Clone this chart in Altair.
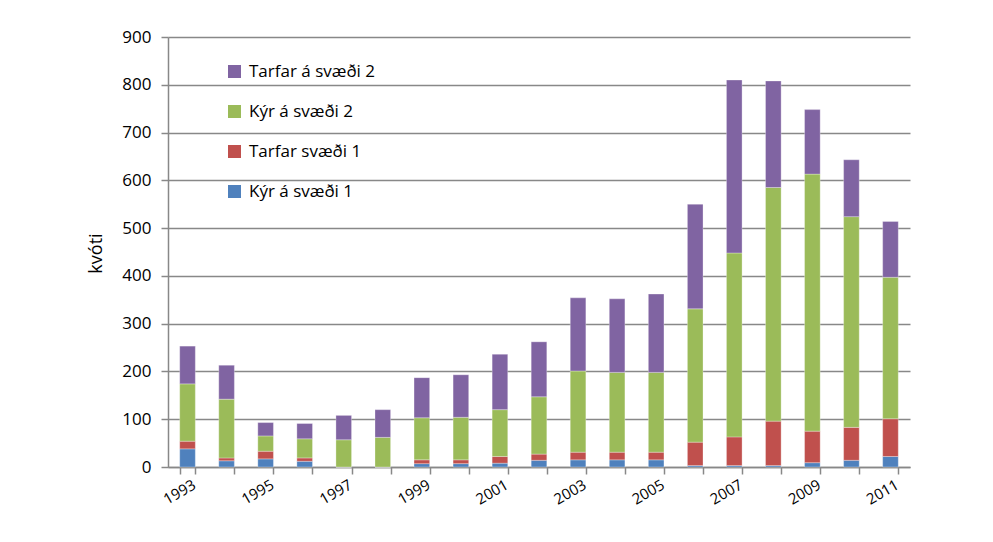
import altair as alt
import pandas as pd

years = [str(y) for y in range(1993, 2012)]
kyr1 = [38, 13, 17, 12, 0, 0, 7, 7, 8, 14, 15, 15, 15, 3, 3, 3, 9, 14, 22]
tarfar1 = [16, 6, 16, 7, 0, 0, 8, 8, 14, 13, 16, 16, 16, 49, 60, 93, 66, 69, 79]
kyr2 = [120, 123, 32, 40, 57, 62, 88, 89, 98, 120, 170, 167, 167, 279, 385, 489, 538, 441, 296]
tarfar2 = [79, 71, 28, 32, 51, 58, 84, 89, 116, 115, 153, 154, 164, 219, 362, 223, 135, 119, 117]

series_names = ["Kýr á svæði 1", "Tarfar svæði 1", "Kýr á svæði 2", "Tarfar á svæði 2"]
series_colors = ["#4f81bd", "#c0504d", "#9bbb59", "#8064a2"]
legend_order = ["Tarfar á svæði 2", "Kýr á svæði 2", "Tarfar svæði 1", "Kýr á svæði 1"]

rows = []
for i, name in enumerate(series_names):
    vals = [kyr1, tarfar1, kyr2, tarfar2][i]
    for y, v in zip(years, vals):
        rows.append({"ár": y, "röð": name, "kvóti": v, "nr": i})
df = pd.DataFrame(rows)

color_scale = alt.Scale(
    domain=legend_order,
    range=[series_colors[series_names.index(n)] for n in legend_order],
)

FONT = "Open Sans"

chart = alt.Chart(df).mark_bar(stroke="white", strokeWidth=0.5, strokeOpacity=0.6).encode(
    x=alt.X(
        "ár:N",
        sort=years,
        title=None,
        scale=alt.Scale(paddingInner=0.6, paddingOuter=0.3),
        axis=alt.Axis(
            labelExpr="toNumber(datum.label) % 2 == 1 ? datum.label : ''",
            labelAngle=-30,
            labelAlign="right",
            labelBaseline="top",
            labelFontSize=15,
            labelFont=FONT,
            labelColor="#000000",
            labelPadding=3,
            labelOffset=3,
            tickBand="extent",
            tickSize=7,
            tickColor="#888888",
            tickWidth=1.5,
            domainColor="#888888",
            domainWidth=1.5,
            grid=False,
        ),
    ),
    y=alt.Y(
        "kvóti:Q",
        stack="zero",
        scale=alt.Scale(domain=[0, 900], nice=False),
        axis=alt.Axis(
            values=list(range(0, 1000, 100)),
            title="kvóti",
            titleFont=FONT,
            titleFontSize=18,
            titleFontWeight=500,
            titleColor="#000000",
            titleAngle=-90,
            titleX=-72,
            titleY=216,
            titleAlign="center",
            titleBaseline="middle",
            labelFont=FONT,
            labelFontSize=17,
            labelColor="#000000",
            labelPadding=10,
            tickSize=7,
            tickColor="#888888",
            tickWidth=1.5,
            domainColor="#888888",
            domainWidth=1.5,
            gridColor="#888888",
            gridWidth=1.5,
        ),
    ),
    color=alt.Color(
        "röð:N",
        scale=color_scale,
        sort=legend_order,
        legend=alt.Legend(
            title=None,
            orient="none",
            legendX=58,
            legendY=26,
            symbolType="square",
            symbolSize=170,
            symbolStrokeWidth=0,
            labelFont=FONT,
            labelFontSize=17,
            labelColor="#000000",
            rowPadding=22,
            labelOffset=6,
        ),
    ),
    order=alt.Order("nr:Q", sort="ascending"),
).properties(
    width=742,
    height=430,
    autosize=alt.AutoSizeParams(type="none"),
    padding={"left": 160, "top": 29, "right": 60, "bottom": 60},
).configure_view(stroke=None)

chart.save("out.html", embed_options={"renderer": "svg", "actions": False})
